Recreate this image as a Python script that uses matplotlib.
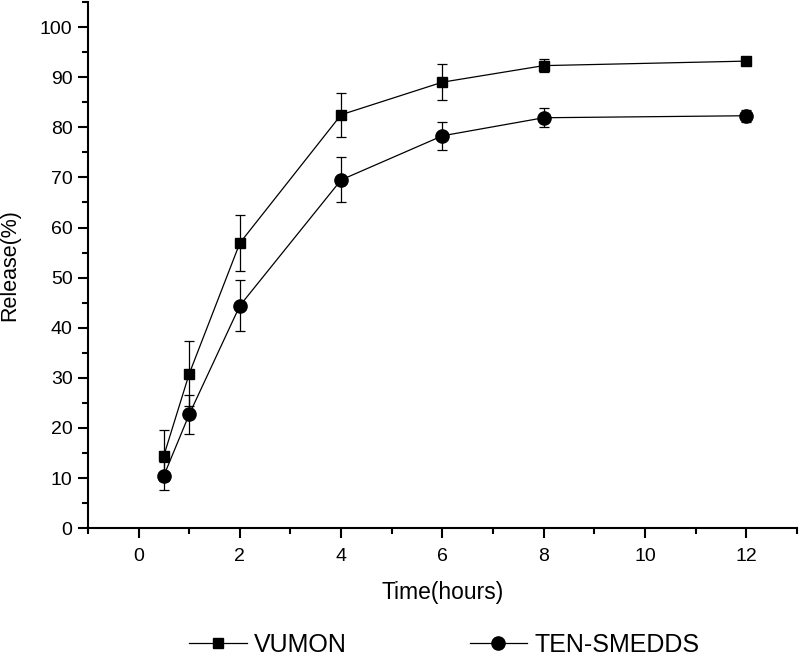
import matplotlib.pyplot as plt
from matplotlib.ticker import MultipleLocator
from matplotlib.lines import Line2D

plt.rcParams['font.family'] = ['Liberation Sans', 'DejaVu Sans']

# release data
time_h = [0.5, 1, 2, 4, 6, 8, 12]
vumon = [14.5, 30.8, 56.9, 82.5, 89.0, 92.3, 93.2]
vumon_err = [5.1, 6.5, 5.5, 4.4, 3.6, 1.3, 0.8]
smedds = [10.5, 22.7, 44.4, 69.5, 78.3, 81.9, 82.3]
smedds_err = [2.8, 3.9, 5.1, 4.5, 2.8, 1.9, 1.2]

fig = plt.figure(figsize=(7.99, 6.57), dpi=100)
ax = fig.add_axes([0.110, 0.196, 0.8875, 0.801])

ax.errorbar(time_h, vumon, yerr=vumon_err, color='black', marker='s', ms=7.5,
            lw=0.9, elinewidth=0.9, capsize=3.6, capthick=0.9)
ax.errorbar(time_h, smedds, yerr=smedds_err, color='black', marker='o', ms=9.5,
            lw=0.9, elinewidth=0.9, capsize=3.6, capthick=0.9)

ax.set_xlim(-1, 13)
ax.set_ylim(0, 105)
ax.xaxis.set_major_locator(MultipleLocator(2))
ax.xaxis.set_minor_locator(MultipleLocator(1))
ax.yaxis.set_minor_locator(MultipleLocator(5))
ax.set_yticks(range(0, 101, 10))

for s in ['top', 'right']:
    ax.spines[s].set_visible(False)
for s in ['left', 'bottom']:
    ax.spines[s].set_linewidth(1.5)

ax.tick_params(which='major', direction='out', length=7, width=1.5, labelsize=14)
ax.tick_params(which='minor', direction='out', length=4, width=1.5)
ax.tick_params(axis='x', which='major', pad=7)
ax.tick_params(axis='y', which='major', pad=4)

ax.set_xlabel('Time(hours)', fontsize=16.5, labelpad=12)
ax.set_ylabel('Release(%)', fontsize=15.5, labelpad=14)

handles = [Line2D([], [], color='black', lw=0.9, marker='s', ms=7.5),
           Line2D([], [], color='black', lw=0.9, marker='o', ms=9.5)]
fig.legend(handles, ['VUMON', 'TEN-SMEDDS'], loc='center',
           bbox_to_anchor=(444.5/799, 1 - 645/657), ncol=2,
           frameon=False, fontsize=18, handlelength=2.3, handletextpad=0.3,
           columnspacing=4.9, numpoints=1, borderpad=0)

fig.savefig('out.png', dpi=100, facecolor='white')
